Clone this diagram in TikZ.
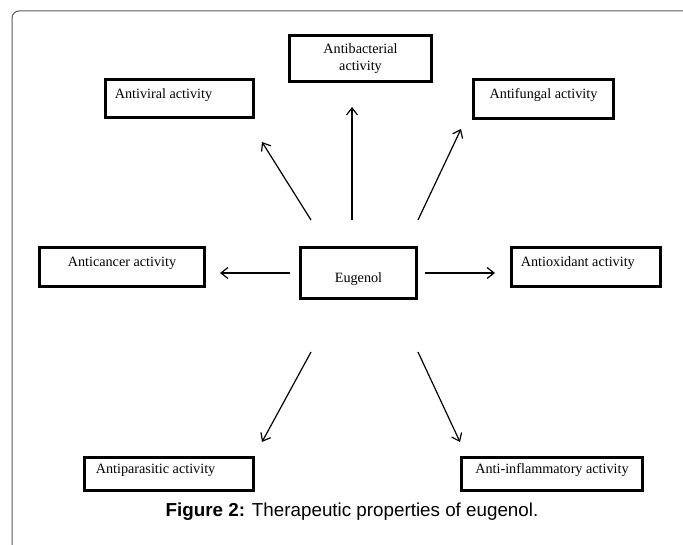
\documentclass[tikz,border=0pt]{standalone}
\usepackage{fontspec}
\setmainfont{Liberation Serif}
\newfontfamily\capfont{Liberation Sans}
\usetikzlibrary{arrows.meta}
\begin{document}
\begin{tikzpicture}[x=1pt,y=-1pt,
  box/.style={draw, line width=2.8pt, inner sep=0pt},
  boxtext/.style={font=\fontsize{14.2}{17}\selectfont, inner sep=0pt},
  arr/.style={line width=1.2pt, -{Straight Barb[length=7pt,width=11pt,line width=1.2pt]}}]
\useasboundingbox (0,0) rectangle (683,545);
\begin{scope}
  \clip (0,0) rectangle (683,545);
  \draw[line width=1pt, draw=black!65, rounded corners=7pt] (12,11) rectangle (720,580);
\end{scope}

\node[box, minimum width=142pt, minimum height=46pt,
  label={[boxtext, align=center]center:Antibacterial\\activity}] (bact) at (360.5,58.5) {};
\node[box, minimum width=148pt, minimum height=38pt,
  label={[boxtext, anchor=west, xshift=10.5pt, yshift=3.5pt]west:Antiviral activity}] (viral) at (179.5,98.5) {};
\node[box, minimum width=140pt, minimum height=39pt,
  label={[boxtext, yshift=4pt]center:Antifungal activity}] (fung) at (543.5,99) {};
\node[box, minimum width=165pt, minimum height=39pt,
  label={[boxtext, yshift=4pt]center:Anticancer activity}] (canc) at (122,267) {};
\node[box, minimum width=116pt, minimum height=51pt,
  label={[boxtext, yshift=-6pt]center:Eugenol}] (eug) at (358.5,273) {};
\node[box, minimum width=149pt, minimum height=39pt,
  label={[boxtext, anchor=west, xshift=10.5pt, yshift=4pt]west:Antioxidant activity}] (oxid) at (586,267) {};
\node[box, minimum width=169pt, minimum height=33pt,
  label={[boxtext, anchor=west, xshift=12.5pt, yshift=3.5pt]west:Antiparasitic activity}] (para) at (169,474) {};
\node[box, minimum width=181pt, minimum height=33pt,
  label={[boxtext, yshift=3.5pt]center:Anti-inflammatory activity}] (infl) at (552,474) {};

\coordinate (ulS) at (311,220); \coordinate (ulE) at (262,142);
\coordinate (uS) at (352,220);  \coordinate (uE) at (352,107);
\coordinate (urS) at (418,220); \coordinate (urE) at (461,129);
\coordinate (lS) at (290,273);  \coordinate (lE) at (220,273);
\coordinate (rS) at (425,273);  \coordinate (rE) at (495,273);
\coordinate (dlS) at (311,352); \coordinate (dlE) at (262,442);
\coordinate (drS) at (418,352); \coordinate (drE) at (460,442);

\draw[arr] (ulS) -- (ulE);
\draw[arr] (uS) -- (uE);
\draw[arr] (urS) -- (urE);
\draw[arr] (lS) -- (lE);
\draw[arr] (rS) -- (rE);
\draw[arr] (dlS) -- (dlE);
\draw[arr] (drS) -- (drE);

\node[font=\capfont\fontsize{18.8}{22}\selectfont, inner sep=0pt] (cap) at (352,512)
  {\textbf{Figure 2:} Therapeutic properties of eugenol.};
\end{tikzpicture}
\end{document}
